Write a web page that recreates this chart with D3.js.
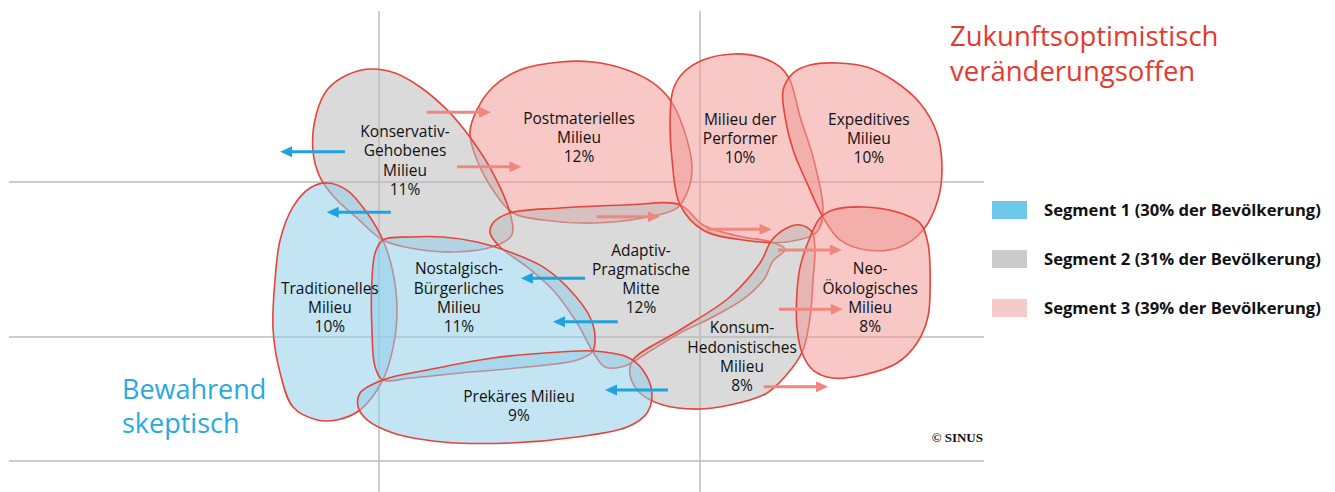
<!DOCTYPE html>
<html>
<head>
<meta charset="utf-8">
<script src="https://cdn.jsdelivr.net/npm/d3@7"></script>
<style>
  body { margin: 0; background: #fff; }
  svg { display: block; }
</style>
</head>
<body>
<div id="karte"></div>
<script>
// Milieus in Zeichenreihenfolge (spaetere liegen oben)
const milieus = ["Postmateriell", "Konservativ-Gehoben", "Adaptiv-Pragmatisch", "Performer",
                 "Expeditiv", "Konsum-Hedonistisch", "Neo-Oekologisch", "Traditionell",
                 "Nostalgisch-Buergerlich", "Prekaer"];
const labelLines = [
  ["Postmaterielles", "Milieu"],
  ["Konservativ-", "Gehobenes", "Milieu"],
  ["Adaptiv-", "Pragmatische", "Mitte"],
  ["Milieu der", "Performer"],
  ["Expeditives", "Milieu"],
  ["Konsum-", "Hedonistisches", "Milieu"],
  ["Neo-", "Ökologisches", "Milieu"],
  ["Traditionelles", "Milieu"],
  ["Nostalgisch-", "Bürgerliches", "Milieu"],
  ["Prekäres Milieu"]
];
const shares   = [12, 11, 12, 10, 10, 8, 8, 10, 11, 9];
const segments = [3, 2, 2, 3, 3, 2, 3, 1, 1, 1];

// Lage der Beschriftung auf der Karte (Mitte, erste Zeile)
const labelPos = [[162.3, 58.9], [108.1, 67.5], [181.6, 143.9], [212.5, 59.4], [252.6, 59.4],
                  [213.1, 194.0], [253.0, 156.1], [84.7, 168.6], [124.9, 156.1], [143.6, 238.1]];

// Umrisse der Milieus in Kartenkoordinaten
const outlines = [
  [[130.5,53.5],[135.5,38.7],[143.9,27.7],[156.4,22.6],[166.7,22.6],[177.3,27.7],[185.4,36.1],[190.7,47.1],[194.7,64.5],[197.5,90.3],[196.3,105.2],[192.8,116.8],[182.2,123.2],[166.7,126.5],[151.1,124.5],[141.7,120],[135.5,105.2],[130.5,85.8],[128.3,68.4]],
  [[90.0,31.0],[97.2,27.1],[105.0,29.7],[112.8,38.7],[121.2,53.5],[128.3,71.0],[135.5,94.2],[140.8,120],[141.4,134.2],[136.1,141.3],[123.1,145.2],[109.7,142.6],[101.2,137.4],[93.1,123.2],[86.3,110.3],[81.6,96.8],[79.4,79.4],[80.4,56.8],[83.8,40.6]],
  [[134.6,132.9],[135.5,126.5],[140.8,120],[156.4,116.8],[177.3,114.8],[193.8,114.8],[200.9,127.7],[213.4,135.5],[222.0,138.5],[226.5,143.5],[222.7,151.0],[220.2,161.9],[214.0,174.8],[204.0,187.1],[193.8,197.4],[183.5,210.3],[176.6,218.7],[170.4,219.4],[166.7,209.7],[161.7,191],[154.2,169.7],[146.1,154.8],[137.7,141.9]],
  [[190.7,58.1],[191.6,40.6],[194.7,29.7],[200.9,21.3],[210.3,17.4],[218.7,19.4],[224.9,25.8],[228.0,34.2],[231.2,58.1],[235.2,83.9],[238.3,118.1],[236.4,132.3],[227.1,138.7],[213.4,137.4],[200.9,131],[193.8,114.8],[191.3,85.8]],
  [[225.9,40.6],[229.0,29.7],[234.3,24.5],[242.7,23.2],[252.0,25.8],[260.1,34.2],[268.5,49.0],[273.8,68.4],[275.4,90.3],[274.1,111.6],[269.5,131],[262.3,141.9],[252.0,143.9],[243.6,137.4],[238.3,122.6],[233.3,100.6],[229.0,79.4],[226.5,58.1]],
  [[227.1,129.7],[231.2,127.7],[234.9,132.3],[235.8,143.9],[235.2,163.2],[234.3,187.1],[232.1,208.4],[228.7,220],[220.9,236.1],[209.3,243.9],[199.1,246.5],[188.5,243.9],[181.3,236.1],[178.2,224.5],[179.1,214.8],[193.8,195.5],[209.3,174.2],[218.7,152.3],[222.4,137.4]],
  [[237.4,123.2],[241.4,118.1],[250.8,116.1],[261.4,119.4],[268.5,126.5],[271.0,139.4],[271.7,165.2],[271.0,187.1],[267.6,203.9],[261.4,216.8],[250.8,224.5],[241.4,226.5],[235.2,221.3],[231.8,210.3],[230.2,193.5],[230.2,171.6],[231.2,154.8],[234.3,135.5]],
  [[83.8,100.6],[90.0,105.2],[96.3,120],[101.2,137.4],[104.4,158.7],[105.6,184.5],[104.4,206.5],[101.2,227.7],[94.1,247.1],[86.9,253.5],[80.7,253.5],[73.2,245.2],[69.2,223.2],[67.0,195.5],[67.6,163.2],[69.2,137.4],[73.2,116.1],[78.5,103.9]],
  [[101.2,137.4],[109.7,135.5],[119.9,135.5],[130.5,138.7],[140.8,145.2],[151.1,154.8],[159.5,169.7],[165.7,187.1],[167.3,200],[166.4,209.7],[161.7,214.8],[146.1,219.4],[125.2,223.2],[109.7,226.5],[101.2,227.7],[98.8,219.4],[97.8,195.5],[97.8,163.2],[98.8,145.8]],
  [[93.5,245.2],[94.1,236.1],[101.2,227.7],[115.0,221.3],[135.5,213.5],[156.4,209.7],[166.7,209],[177.3,212.9],[182.2,221.3],[185.0,236.1],[183.5,249],[177.3,258.1],[161.7,264.5],[140.8,268.4],[119.9,267.7],[104.4,261.9],[96.3,253.5]]
];

// Dynamik-Pfeile: [von, nach, hoehe]
const arrowsLeft  = [[89.4,69.2,80.5],[103.7,83.7,119.5],[164.2,144.2,162.1],[174.4,154.2,190.1],[190.0,170.4,234.2]];
const arrowsRight = [[114.9,134.9,55.0],[124.3,144.4,90.1],[167.8,187.5,122.4],[202.1,222.3,130.5],
                     [224.3,244.2,143.9],[224.6,244.5,182.1],[219.9,239.9,232.1]];

// Raster und Legende
const gridX = [100, 200];
const gridY = [100, 200, 280];
const mapLeft = -15.3, mapRight = 288.5, mapTop = -10.3, mapBottom = 300;
const segmentNames = ["Segment 1 (30% der Bevölkerung)", "Segment 2 (31% der Bevölkerung)", "Segment 3 (39% der Bevölkerung)"];

var width = 1335, height = 492;
var fillColor = {1: "#92cee9", 2: "#bcbcbc", 3: "#f09b97"};
var legendColor = ["#6ec8ec", "#cbcbcb", "#f7caca"];
var outlineRed = "#e5443a";

var svg = d3.select("#karte")
  .append("svg")
    .attr("width", width)
    .attr("height", height);

var x = d3.scaleLinear().domain([0, 300]).range([58, 1021]);
var y = d3.scaleLinear().domain([0, 300]).range([27, 492]);

// Raster
svg.selectAll(".gx").data(gridX).enter().append("line")
  .attr("x1", d => x(d)).attr("x2", d => x(d))
  .attr("y1", y(mapTop)).attr("y2", y(mapBottom))
  .attr("stroke", "#bdbdbd").attr("stroke-width", 1.5);
svg.selectAll(".gy").data(gridY).enter().append("line")
  .attr("x1", x(mapLeft)).attr("x2", x(mapRight))
  .attr("y1", d => y(d)).attr("y2", d => y(d))
  .attr("stroke", "#bdbdbd").attr("stroke-width", 1.5);

// Milieu-Flaechen
var blob = d3.line()
  .x(p => x(p[0]))
  .y(p => y(p[1]))
  .curve(d3.curveCatmullRomClosed.alpha(0.5));

svg.selectAll(".milieu").data(milieus).enter().append("path")
  .attr("d", (d, i) => blob(outlines[i]))
  .attr("fill", (d, i) => fillColor[segments[i]])
  .attr("fill-opacity", 0.55)
  .attr("stroke", outlineRed)
  .attr("stroke-width", 1.6);

// Pfeile
function arrow(x1, x2, yy, color) {
  var dir = x2 > x1 ? 1 : -1;
  var tip = x(x2), base = tip - dir * 12, py = y(yy);
  svg.append("line")
    .attr("x1", x(x1)).attr("x2", base + dir * 1)
    .attr("y1", py).attr("y2", py)
    .attr("stroke", color).attr("stroke-width", 3);
  svg.append("path")
    .attr("d", d3.line()([[tip, py], [base, py - 5.5], [base, py + 5.5]]) + "Z")
    .attr("fill", color);
}
arrowsLeft.forEach(a => arrow(a[0], a[1], a[2], "#1fa3dc"));
arrowsRight.forEach(a => arrow(a[0], a[1], a[2], "#f0877f"));

// Beschriftungen
var lineH = 19.3;
milieus.forEach(function (m, i) {
  var lines = labelLines[i].concat([shares[i] + "%"]);
  var t = svg.append("text")
    .attr("text-anchor", "middle")
    .style("font-family", "'Open Sans', sans-serif")
    .style("font-size", "15.5px")
    .attr("fill", "#111");
  lines.forEach(function (l, j) {
    t.append("tspan")
      .attr("x", x(labelPos[i][0]))
      .attr("y", y(labelPos[i][1]) + 5.5 + j * lineH)
      .text(l);
  });
});

// Legende
segmentNames.forEach(function (s, i) {
  svg.append("rect")
    .attr("x", 992).attr("y", 201 + i * 49)
    .attr("width", 35).attr("height", 18)
    .attr("fill", legendColor[i]);
  svg.append("text")
    .attr("x", 1044).attr("y", 216 + i * 49)
    .text(s)
    .style("font-family", "'Open Sans', sans-serif")
    .style("font-weight", "bold")
    .style("font-size", "16.6px")
    .attr("fill", "#111");
});

// Achsentitel
var titleRed = svg.append("text")
  .attr("fill", "#e6392e")
  .style("font-family", "'Open Sans', sans-serif")
  .style("font-size", "27.5px");
titleRed.append("tspan").attr("x", 950).attr("y", 46).text("Zukunftsoptimistisch");
titleRed.append("tspan").attr("x", 950).attr("y", 81).text("veränderungsoffen");

var titleBlue = svg.append("text")
  .attr("fill", "#29a9e1")
  .style("font-family", "'Open Sans', sans-serif")
  .style("font-size", "27px");
titleBlue.append("tspan").attr("x", 122).attr("y", 399).text("Bewahrend");
titleBlue.append("tspan").attr("x", 122).attr("y", 433).text("skeptisch");

svg.append("text")
  .attr("x", 983).attr("y", 442)
  .attr("text-anchor", "end")
  .style("font-family", "'Liberation Serif', serif")
  .style("font-weight", "bold")
  .style("font-size", "13px")
  .attr("fill", "#111")
  .text("© SINUS");
</script>
</body>
</html>
